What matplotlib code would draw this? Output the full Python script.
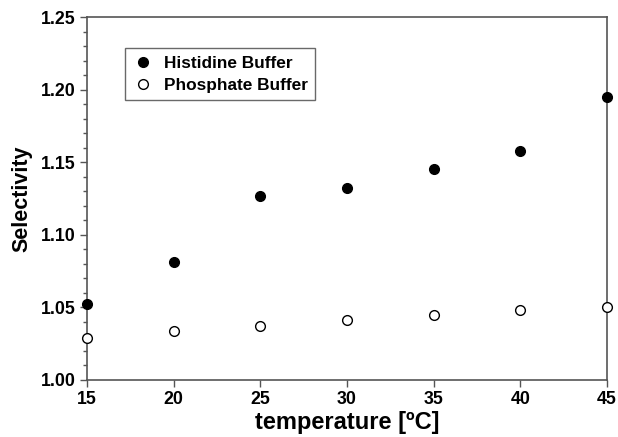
import matplotlib.pyplot as plt
from matplotlib.ticker import MultipleLocator

plt.rcParams['font.family'] = ['Liberation Sans', 'DejaVu Sans']
plt.rcParams['font.weight'] = 'bold'

# data
temperature = [15, 20, 25, 30, 35, 40, 45]
histidine = [1.052, 1.081, 1.127, 1.132, 1.145, 1.158, 1.195]
phosphate = [1.029, 1.034, 1.037, 1.041, 1.045, 1.048, 1.050]

fig = plt.figure(figsize=(6.18, 4.37), dpi=100)
ax = fig.add_axes([87 / 618, 1 - 380 / 437, 520 / 618, 363 / 437])

ax.plot(temperature, histidine, 'o', color='black', markersize=7,
        markeredgewidth=1, label='Histidine Buffer', clip_on=False, zorder=3)
ax.plot(temperature, phosphate, 'o', markerfacecolor='white', markeredgecolor='black',
        markersize=7, markeredgewidth=1, label='Phosphate Buffer', clip_on=False, zorder=3)

ax.set_xlim(15, 45)
ax.set_ylim(1.00, 1.25)
ax.xaxis.set_major_locator(MultipleLocator(5))
ax.yaxis.set_major_locator(MultipleLocator(0.05))
ax.yaxis.set_minor_locator(MultipleLocator(0.01))
ax.yaxis.set_major_formatter(plt.FormatStrFormatter('%.2f'))

for s in ax.spines.values():
    s.set_color('#555555')
    s.set_linewidth(1.2)
ax.tick_params(axis='both', which='major', direction='out', length=5, width=1,
               color='#555555', labelsize=12.8, pad=3)
ax.tick_params(axis='y', which='minor', direction='out', length=3, width=1, color='#555555')

ax.set_xlabel('temperature [ºC]', fontsize=17, fontweight='bold', labelpad=2)
ax.set_ylabel('Selectivity', fontsize=15.5, fontweight='bold', labelpad=6)

leg = ax.legend(loc='upper left', bbox_to_anchor=(0.073, 0.915), borderaxespad=0,
                fontsize=12.4, frameon=True, fancybox=False, edgecolor='#444444',
                handletextpad=0.6, borderpad=0.45, labelspacing=0.4, handlelength=1.2)
leg.get_frame().set_linewidth(1.0)

fig.savefig('out.png', dpi=100)
